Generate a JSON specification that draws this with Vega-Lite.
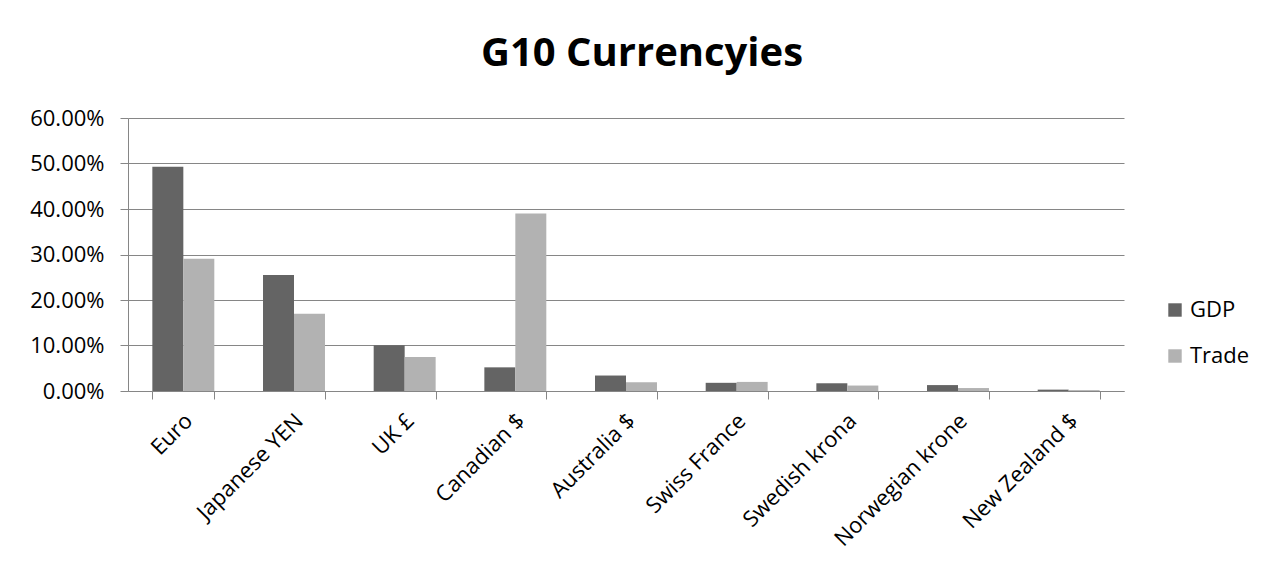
{
  "$schema": "https://vega.github.io/schema/vega-lite/v6.json",
  "width": 996,
  "height": 273,
  "autosize": {"type": "none"},
  "padding": {"left": 128, "top": 118, "right": 158, "bottom": 186},
  "background": "white",
  "title": {
    "text": "G10 Currencyies",
    "font": "Open Sans",
    "fontSize": 40,
    "fontWeight": "bold",
    "color": "#000000",
    "anchor": "middle",
    "dx": 16,
    "dy": 53,
    "offset": 46,
    "baseline": "bottom"
  },
  "data": {
    "values": [
      {"currency": "Euro", "series": "GDP", "value": 0.493},
      {"currency": "Euro", "series": "Trade", "value": 0.2905},
      {"currency": "Japanese YEN", "series": "GDP", "value": 0.255},
      {"currency": "Japanese YEN", "series": "Trade", "value": 0.17},
      {"currency": "UK £", "series": "GDP", "value": 0.1007},
      {"currency": "UK £", "series": "Trade", "value": 0.075},
      {"currency": "Canadian $", "series": "GDP", "value": 0.052},
      {"currency": "Canadian $", "series": "Trade", "value": 0.39},
      {"currency": "Australia $", "series": "GDP", "value": 0.034},
      {"currency": "Australia $", "series": "Trade", "value": 0.019},
      {"currency": "Swiss France", "series": "GDP", "value": 0.018},
      {"currency": "Swiss France", "series": "Trade", "value": 0.02},
      {"currency": "Swedish krona", "series": "GDP", "value": 0.017},
      {"currency": "Swedish krona", "series": "Trade", "value": 0.012},
      {"currency": "Norwegian krone", "series": "GDP", "value": 0.013},
      {"currency": "Norwegian krone", "series": "Trade", "value": 0.0065},
      {"currency": "New Zealand $", "series": "GDP", "value": 0.003},
      {"currency": "New Zealand $", "series": "Trade", "value": 0.002}
    ]
  },
  "mark": {"type": "bar"},
  "encoding": {
    "x": {
      "field": "currency",
      "type": "nominal",
      "sort": null,
      "title": null,
      "scale": {"paddingInner": 0.44, "paddingOuter": 0.22},
      "axis": {
        "tickBand": "extent",
        "labelAngle": -45,
        "labelAlign": "right",
        "labelBaseline": "middle",
        "labelOffset": 5,
        "labelPadding": 18,
        "labelFont": "Open Sans",
        "labelFontSize": 22,
        "labelColor": "#000000",
        "labelOverlap": false,
        "tickSize": 8,
        "tickColor": "#868686",
        "domainColor": "#868686",
        "grid": false
      }
    },
    "xOffset": {"field": "series", "type": "nominal", "sort": ["GDP", "Trade"]},
    "y": {
      "field": "value",
      "type": "quantitative",
      "title": null,
      "scale": {"domain": [0, 0.6], "nice": false},
      "axis": {
        "values": [0, 0.1, 0.2, 0.3, 0.4, 0.5, 0.6],
        "format": ".2%",
        "labelFont": "Open Sans",
        "labelFontSize": 22,
        "labelColor": "#000000",
        "labelPadding": 16,
        "tickSize": 8,
        "tickColor": "#868686",
        "domainColor": "#868686",
        "grid": true,
        "gridColor": "#868686",
        "gridWidth": 1
      }
    },
    "color": {
      "field": "series",
      "type": "nominal",
      "sort": ["GDP", "Trade"],
      "scale": {"domain": ["GDP", "Trade"], "range": ["#646464", "#b2b2b2"]},
      "legend": {
        "title": null,
        "orient": "none",
        "legendX": 1036,
        "legendY": 181,
        "symbolType": "square",
        "symbolSize": 180,
        "labelFont": "Open Sans",
        "labelFontSize": 22,
        "labelColor": "#000000",
        "rowPadding": 24,
        "labelOffset": 4
      }
    }
  },
  "config": {
    "view": {"stroke": null}
  }
}
